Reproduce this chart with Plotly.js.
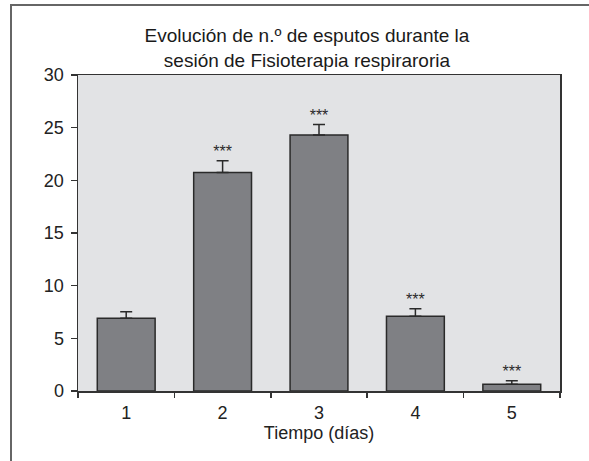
<!DOCTYPE html>
<html>
<head>
<meta charset="utf-8">
<script src="https://cdn.plot.ly/plotly-3.0.1.min.js"></script>
<style>html,body{margin:0;padding:0;background:#fff;}#chart{width:589px;height:461px;}</style>
</head>
<body>
<div id="chart"></div>
<script>
const categories = ["1", "2", "3", "4", "5"];
const values = [6.9, 20.75, 24.3, 7.1, 0.65];
const errors = [0.62, 1.1, 1.0, 0.7, 0.33];
const marks = ["", "***", "***", "***", "***"];

const errTop = values.map((v, i) => v + errors[i]);

const bars = {
  type: "bar",
  x: categories,
  y: values,
  width: 0.6,
  marker: {color: "#7f8084", line: {color: "#2a2a2a", width: 1.5}},
  error_y: {type: "data", symmetric: false, array: errors, arrayminus: errors.map(() => 0),
            color: "#2a2a2a", thickness: 1.5, width: 6},
  hoverinfo: "none",
  showlegend: false
};
const stars = {
  type: "scatter",
  mode: "text",
  x: categories,
  y: errTop,
  text: marks,
  textposition: "top center",
  textfont: {family: "Liberation Sans, Arial, sans-serif", size: 16, color: "#2a2a2a"},
  hoverinfo: "none",
  showlegend: false,
  cliponaxis: false
};

const layout = {
  width: 589, height: 461,
  margin: {l: 78, r: 29, t: 75, b: 70},
  paper_bgcolor: "#ffffff",
  plot_bgcolor: "#e2e3e5",
  font: {family: "Liberation Sans, Arial, sans-serif", color: "#222", size: 18},
  title: {
    text: "Evolución de n.º de esputos durante la<br>sesión de Fisioterapia respiraroria",
    font: {size: 19, color: "#1a1a1a"},
    xref: "paper", x: 0.475, xanchor: "center",
    yref: "container", y: 0.909, yanchor: "top"
  },
  xaxis: {
    type: "category",
    range: [-0.5, 4.5],
    showline: true, linecolor: "#333", linewidth: 1.5, mirror: true,
    ticks: "", showgrid: false, zeroline: false,
    tickfont: {size: 18}, ticklabelstandoff: 5,
    title: {text: "Tiempo (días)", font: {size: 18}, standoff: 4}
  },
  xaxis2: {
    overlaying: "x", range: [0, 5], tickvals: [0, 1, 2, 3, 4, 5],
    ticks: "outside", ticklen: 6, tickcolor: "#333", tickwidth: 1.5,
    showticklabels: false, showgrid: false, zeroline: false, showline: false
  },
  yaxis: {
    range: [0, 30], dtick: 5,
    showline: true, linecolor: "#333", linewidth: 1.5, mirror: true,
    ticks: "outside", ticklen: 6, tickcolor: "#333", tickwidth: 1.5,
    showgrid: false, zeroline: false,
    tickfont: {size: 18}, ticklabelstandoff: 3
  },
  shapes: [{
    type: "rect", xref: "paper", yref: "paper",
    x0: -0.139, x1: 1.2, y0: -0.3, y1: 1.2215,
    line: {color: "#666", width: 2}, fillcolor: "rgba(0,0,0,0)", layer: "below"
  }]
};

const dummy = {type: "scatter", x: [0, 5], y: [0, 0], xaxis: "x2", mode: "none", hoverinfo: "none", showlegend: false};

Plotly.newPlot("chart", [bars, stars, dummy], layout, {displayModeBar: false, staticPlot: true});
</script>
</body>
</html>
